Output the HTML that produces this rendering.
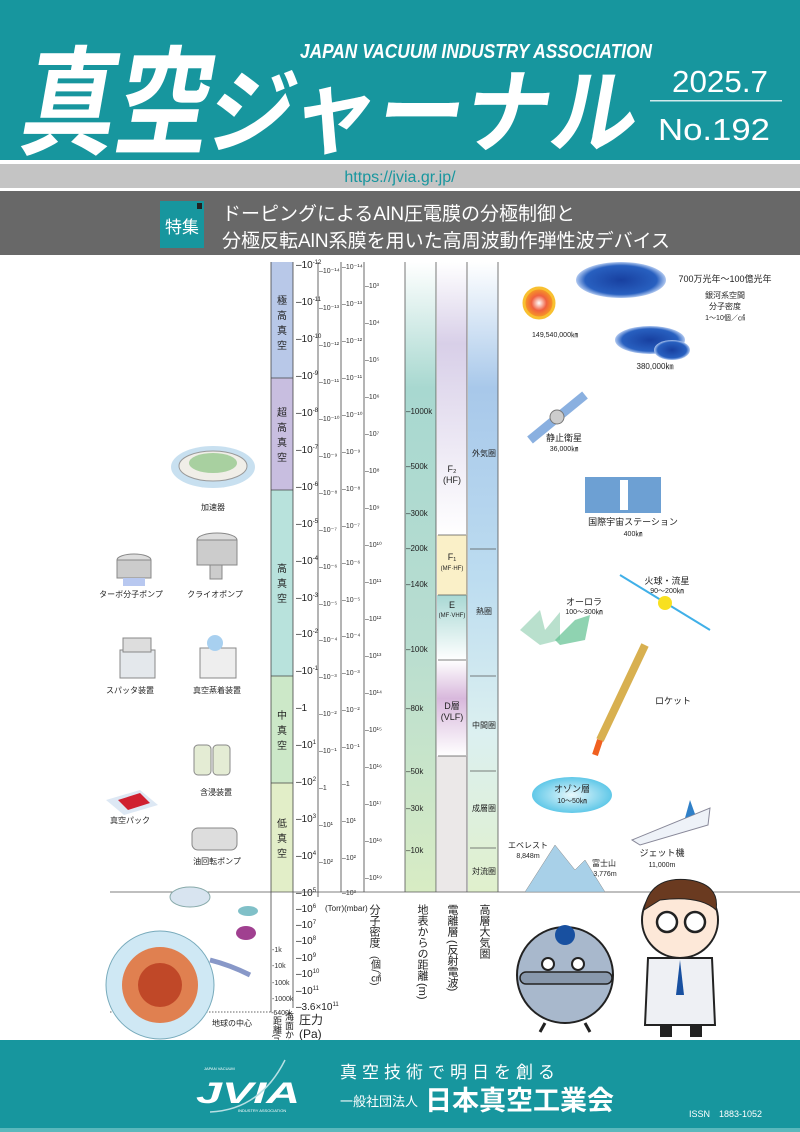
<!DOCTYPE html>
<html><head><meta charset="utf-8"><style>
html,body{margin:0;padding:0;background:#fff}
svg{display:block}
text{font-family:"Liberation Sans","Noto Sans CJK JP",sans-serif}
.j{font-family:"Liberation Sans","Noto Sans CJK JP",sans-serif}
</style></head><body>
<svg width="800" height="1132" viewBox="0 0 800 1132" xmlns="http://www.w3.org/2000/svg">
<defs>
<linearGradient id="dist" x1="0" y1="0" x2="0" y2="1"><stop offset="0" stop-color="#fff"/><stop offset="0.2" stop-color="#a8d8d0"/><stop offset="0.6" stop-color="#b8ddd0"/><stop offset="1" stop-color="#d8ecc4"/></linearGradient>
<linearGradient id="atm" x1="0" y1="0" x2="0" y2="1"><stop offset="0" stop-color="#fff"/><stop offset="0.2" stop-color="#a8c8ea"/><stop offset="0.5" stop-color="#bcdcf0"/><stop offset="0.75" stop-color="#dcf0f0"/><stop offset="1" stop-color="#e0f0cc"/></linearGradient>
<linearGradient id="f2" x1="0" y1="0" x2="0" y2="1"><stop offset="0" stop-color="#fff"/><stop offset="0.3" stop-color="#d8cfe8"/><stop offset="1" stop-color="#fff"/></linearGradient>
<linearGradient id="ee" x1="0" y1="0" x2="0" y2="1"><stop offset="0" stop-color="#a8d8d4"/><stop offset="1" stop-color="#fff"/></linearGradient>
<linearGradient id="dd" x1="0" y1="0" x2="0" y2="1"><stop offset="0" stop-color="#fff"/><stop offset="0.4" stop-color="#d8b8dc"/><stop offset="1" stop-color="#fff"/></linearGradient>
<radialGradient id="sun"><stop offset="0" stop-color="#fff"/><stop offset="0.5" stop-color="#f06040"/><stop offset="1" stop-color="#f8a020"/></radialGradient>
<radialGradient id="sky"><stop offset="0" stop-color="#1840a0"/><stop offset="0.8" stop-color="#2860c0"/><stop offset="1" stop-color="#b0c8f0"/></radialGradient>
<radialGradient id="cloud"><stop offset="0" stop-color="#e8f8fc"/><stop offset="1" stop-color="#60c8e8"/></radialGradient>
</defs>

<!-- header -->
<rect x="0" y="0" width="800" height="160" fill="#17969e"/>
<g transform="skewX(-10) translate(24,0)">
<text x="18" y="145" font-size="118" font-weight="bold" fill="#fff" textLength="190" lengthAdjust="spacingAndGlyphs" class="j">真空</text>
<text x="205" y="145" font-size="92" font-weight="bold" fill="#fff" textLength="430" lengthAdjust="spacingAndGlyphs" class="j">ジャーナル</text>
</g>
<text x="300" y="58" font-size="20" font-style="italic" font-weight="bold" fill="#fff" textLength="352" lengthAdjust="spacingAndGlyphs">JAPAN VACUUM INDUSTRY ASSOCIATION</text>
<text x="672" y="92" font-size="31" fill="#fff" textLength="96" lengthAdjust="spacingAndGlyphs">2025.7</text>
<rect x="650" y="100" width="132" height="1.5" fill="#fff" opacity="0.8"/>
<text x="658" y="140" font-size="31" fill="#fff" textLength="112" lengthAdjust="spacingAndGlyphs">No.192</text>
<rect x="0" y="160" width="800" height="4" fill="#fff"/>
<rect x="0" y="164" width="800" height="24" fill="#c4c4c4"/>
<text x="400" y="182" font-size="16" fill="#17969e" text-anchor="middle">https://jvia.gr.jp/</text>
<rect x="0" y="188" width="800" height="3" fill="#fff"/>
<rect x="0" y="191" width="800" height="64" fill="#686868"/>
<rect x="160" y="201" width="44" height="47" fill="#17969e"/>
<rect x="197" y="203" width="5" height="6" fill="#222"/>
<text x="182" y="233" font-size="17" fill="#fff" text-anchor="middle">特集</text>
<text x="222" y="220" font-size="19" fill="#fff">ドーピングによるAlN圧電膜の分極制御と</text>
<text x="222" y="247" font-size="19" fill="#fff">分極反転AlN系膜を用いた高周波動作弾性波デバイス</text>

<!-- chart columns -->
<rect x="271" y="262" width="22" height="116" fill="#b8c8e8"/>
<rect x="271" y="378" width="22" height="112" fill="#c8bee0"/>
<rect x="271" y="490" width="22" height="186" fill="#b8e2dc"/>
<rect x="271" y="676" width="22" height="107" fill="#cce8c8"/>
<rect x="271" y="783" width="22" height="109" fill="#e2eec8"/>
<g stroke="#444" stroke-width="0.8">
<line x1="271" y1="378" x2="293" y2="378"/><line x1="271" y1="490" x2="293" y2="490"/><line x1="271" y1="676" x2="293" y2="676"/><line x1="271" y1="783" x2="293" y2="783"/>
<line x1="271" y1="262" x2="271" y2="1012"/><line x1="293" y1="262" x2="293" y2="1008"/>
<line x1="318" y1="262" x2="318" y2="897"/><line x1="341" y1="262" x2="341" y2="892"/><line x1="364" y1="262" x2="364" y2="892"/>
</g>
<g font-size="10" fill="#222" text-anchor="middle">
<text x="282" y="304">極</text><text x="282" y="319">高</text><text x="282" y="334">真</text><text x="282" y="349">空</text>
<text x="282" y="416">超</text><text x="282" y="431">高</text><text x="282" y="446">真</text><text x="282" y="461">空</text>
<text x="282" y="572">高</text><text x="282" y="587">真</text><text x="282" y="602">空</text>
<text x="282" y="719">中</text><text x="282" y="734">真</text><text x="282" y="749">空</text>
<text x="282" y="827">低</text><text x="282" y="842">真</text><text x="282" y="857">空</text>
</g>
<!-- Pa ticks -->
<g font-size="10" fill="#222">
<text x="296" y="268">–10<tspan dy="-4" font-size="6">-12</tspan></text>
<text x="296" y="305">–10<tspan dy="-4" font-size="6">-11</tspan></text>
<text x="296" y="342">–10<tspan dy="-4" font-size="6">-10</tspan></text>
<text x="296" y="379">–10<tspan dy="-4" font-size="6">-9</tspan></text>
<text x="296" y="416">–10<tspan dy="-4" font-size="6">-8</tspan></text>
<text x="296" y="453">–10<tspan dy="-4" font-size="6">-7</tspan></text>
<text x="296" y="490">–10<tspan dy="-4" font-size="6">-6</tspan></text>
<text x="296" y="527">–10<tspan dy="-4" font-size="6">-5</tspan></text>
<text x="296" y="564">–10<tspan dy="-4" font-size="6">-4</tspan></text>
<text x="296" y="601">–10<tspan dy="-4" font-size="6">-3</tspan></text>
<text x="296" y="637">–10<tspan dy="-4" font-size="6">-2</tspan></text>
<text x="296" y="674">–10<tspan dy="-4" font-size="6">-1</tspan></text>
<text x="296" y="711">–1</text>
<text x="296" y="748">–10<tspan dy="-4" font-size="6">1</tspan></text>
<text x="296" y="785">–10<tspan dy="-4" font-size="6">2</tspan></text>
<text x="296" y="822">–10<tspan dy="-4" font-size="6">3</tspan></text>
<text x="296" y="859">–10<tspan dy="-4" font-size="6">4</tspan></text>
<text x="296" y="896">–10<tspan dy="-4" font-size="6">5</tspan></text>
<text x="296" y="912">–10<tspan dy="-4" font-size="6">6</tspan></text>
<text x="296" y="928">–10<tspan dy="-4" font-size="6">7</tspan></text>
<text x="296" y="944">–10<tspan dy="-4" font-size="6">8</tspan></text>
<text x="296" y="961">–10<tspan dy="-4" font-size="6">9</tspan></text>
<text x="296" y="977">–10<tspan dy="-4" font-size="6">10</tspan></text>
<text x="296" y="994">–10<tspan dy="-4" font-size="6">11</tspan></text>
<text x="296" y="1010">–3.6×10<tspan dy="-4" font-size="6">11</tspan></text>
</g>
<!-- Torr & mbar -->
<g font-size="7" fill="#333">
<text x="319" y="273">–10⁻¹⁴</text><text x="342" y="269">–10⁻¹⁴</text>
<text x="319" y="310">–10⁻¹³</text><text x="342" y="306">–10⁻¹³</text>
<text x="319" y="347">–10⁻¹²</text><text x="342" y="343">–10⁻¹²</text>
<text x="319" y="384">–10⁻¹¹</text><text x="342" y="380">–10⁻¹¹</text>
<text x="319" y="421">–10⁻¹⁰</text><text x="342" y="417">–10⁻¹⁰</text>
<text x="319" y="458">–10⁻⁹</text><text x="342" y="454">–10⁻⁹</text>
<text x="319" y="495">–10⁻⁸</text><text x="342" y="491">–10⁻⁸</text>
<text x="319" y="532">–10⁻⁷</text><text x="342" y="528">–10⁻⁷</text>
<text x="319" y="569">–10⁻⁶</text><text x="342" y="565">–10⁻⁶</text>
<text x="319" y="606">–10⁻⁵</text><text x="342" y="602">–10⁻⁵</text>
<text x="319" y="642">–10⁻⁴</text><text x="342" y="638">–10⁻⁴</text>
<text x="319" y="679">–10⁻³</text><text x="342" y="675">–10⁻³</text>
<text x="319" y="716">–10⁻²</text><text x="342" y="712">–10⁻²</text>
<text x="319" y="753">–10⁻¹</text><text x="342" y="749">–10⁻¹</text>
<text x="319" y="790">–1</text><text x="342" y="786">–1</text>
<text x="319" y="827">–10¹</text><text x="342" y="823">–10¹</text>
<text x="319" y="864">–10²</text><text x="342" y="860">–10²</text>
<text x="342" y="895">–10³</text>
<text x="365" y="288">–10³</text><text x="365" y="325">–10⁴</text><text x="365" y="362">–10⁵</text><text x="365" y="399">–10⁶</text><text x="365" y="436">–10⁷</text><text x="365" y="473">–10⁸</text><text x="365" y="510">–10⁹</text><text x="365" y="547">–10¹⁰</text><text x="365" y="584">–10¹¹</text><text x="365" y="621">–10¹²</text><text x="365" y="658">–10¹³</text><text x="365" y="695">–10¹⁴</text><text x="365" y="732">–10¹⁵</text><text x="365" y="769">–10¹⁶</text><text x="365" y="806">–10¹⁷</text><text x="365" y="843">–10¹⁸</text><text x="365" y="880">–10¹⁹</text>
</g>
<!-- distance column -->
<rect x="405" y="262" width="31" height="630" fill="url(#dist)"/>
<!-- ionosphere -->
<rect x="437" y="262" width="30" height="273" fill="url(#f2)"/>
<rect x="437" y="535" width="30" height="60" fill="#faf0c8"/>
<rect x="437" y="595" width="30" height="65" fill="url(#ee)"/>
<rect x="437" y="660" width="30" height="96" fill="url(#dd)"/>
<rect x="437" y="756" width="30" height="136" fill="#ebe8e8"/>
<rect x="468" y="262" width="30" height="630" fill="url(#atm)"/>
<g stroke="#555" stroke-width="0.8">
<line x1="405" y1="262" x2="405" y2="892"/><line x1="436" y1="262" x2="436" y2="892"/><line x1="467" y1="262" x2="467" y2="892"/><line x1="498" y1="262" x2="498" y2="892"/>
<line x1="438" y1="535" x2="466" y2="535"/><line x1="438" y1="595" x2="466" y2="595"/><line x1="438" y1="660" x2="466" y2="660"/><line x1="438" y1="756" x2="466" y2="756"/>
<line x1="470" y1="549" x2="496" y2="549"/><line x1="470" y1="676" x2="496" y2="676"/><line x1="470" y1="771" x2="496" y2="771"/><line x1="470" y1="848" x2="496" y2="848"/>
<line x1="110" y1="892" x2="800" y2="892"/>
</g>
<g font-size="8" fill="#222">
<text x="406" y="414">–1000k</text><text x="406" y="469">–500k</text><text x="406" y="516">–300k</text><text x="406" y="551">–200k</text><text x="406" y="587">–140k</text><text x="406" y="652">–100k</text><text x="406" y="711">–80k</text><text x="406" y="774">–50k</text><text x="406" y="811">–30k</text><text x="406" y="853">–10k</text>
</g>
<g font-size="9" fill="#222" text-anchor="middle">
<text x="452" y="472">F₂</text><text x="452" y="483">(HF)</text>
<text x="452" y="560">F₁</text><text x="452" y="570" font-size="6">(MF·HF)</text>
<text x="452" y="608">E</text><text x="452" y="617" font-size="6">(MF·VHF)</text>
<text x="452" y="709">D層</text><text x="452" y="720">(VLF)</text>
<text x="484" y="456" font-size="8">外気圏</text><text x="484" y="614" font-size="8">熱圏</text><text x="484" y="728" font-size="8">中間圏</text><text x="484" y="811" font-size="8">成層圏</text><text x="484" y="874" font-size="8">対流圏</text>
</g>
<!-- lower axis labels -->
<g font-size="7" fill="#333">
<text x="272" y="952">-1k</text><text x="272" y="968">-10k</text><text x="272" y="985">-100k</text><text x="272" y="1001">-1000k</text><text x="271" y="1015">-6400k</text>
</g>
<line x1="110" y1="1012" x2="271" y2="1012" stroke="#666" stroke-dasharray="1.5,1.5"/>
<text x="212" y="1026" font-size="8" fill="#222">地球の中心</text>
<text x="325" y="911" font-size="8" fill="#222">(Torr)(mbar)</text>
<g font-size="11" fill="#222" style="writing-mode:vertical-rl">
<text x="277" y="1016" font-size="9">距離(m)</text>
<text x="289" y="1012" font-size="9">海面からの</text>
<text x="374" y="904">分子密度</text><text x="374" y="956" font-size="10">(個/㎠)</text>
<text x="422" y="904">地表からの距離</text><text x="422" y="983">(m)</text>
<text x="452" y="904">電離層</text><text x="452" y="940">(反射電波)</text>
<text x="484" y="904">高層大気圏</text>
</g>
<text x="299" y="1024" font-size="12" fill="#222">圧力</text>
<text x="299" y="1038" font-size="12" fill="#222">(Pa)</text>

<!-- left illustrations -->
<ellipse cx="213" cy="467" rx="42" ry="21" fill="#c8e0f0"/>
<ellipse cx="213" cy="466" rx="34" ry="15" fill="#f0eee8" stroke="#999"/>
<ellipse cx="213" cy="463" rx="24" ry="10" fill="#a8d0a0"/>
<text x="213" y="510" font-size="8" text-anchor="middle" fill="#222">加速器</text>
<ellipse cx="134" cy="560" rx="17" ry="6" fill="#ddd" stroke="#888"/><rect x="117" y="560" width="34" height="18" fill="#ccc" stroke="#888"/><rect x="123" y="578" width="22" height="8" fill="#b8c8f0"/>
<text x="131" y="597" font-size="8" text-anchor="middle" fill="#222">ターボ分子ポンプ</text>
<ellipse cx="217" cy="540" rx="20" ry="7" fill="#ddd" stroke="#888"/><rect x="197" y="540" width="40" height="25" fill="#ccc" stroke="#888"/><rect x="210" y="565" width="12" height="14" fill="#ccc" stroke="#888"/>
<text x="215" y="597" font-size="8" text-anchor="middle" fill="#222">クライオポンプ</text>
<rect x="120" y="650" width="35" height="28" fill="#e4e8ec" stroke="#888"/><rect x="123" y="638" width="28" height="14" fill="#ddd" stroke="#888"/>
<text x="130" y="693" font-size="8" text-anchor="middle" fill="#222">スパッタ装置</text>
<rect x="200" y="648" width="36" height="30" fill="#eee" stroke="#888"/><ellipse cx="215" cy="643" rx="8" ry="8" fill="#a8d0f0"/>
<text x="217" y="693" font-size="8" text-anchor="middle" fill="#222">真空蒸着装置</text>
<rect x="194" y="745" width="17" height="30" rx="4" fill="#e4ecd4" stroke="#888"/><rect x="213" y="745" width="17" height="30" rx="4" fill="#e4ecd4" stroke="#888"/>
<text x="216" y="795" font-size="8" text-anchor="middle" fill="#222">含浸装置</text>
<path d="M106 800 L140 790 L158 805 L124 815 Z" fill="#dde8f4"/><path d="M118 800 L140 793 L150 803 L128 810 Z" fill="#d02030"/>
<text x="130" y="823" font-size="8" text-anchor="middle" fill="#222">真空パック</text>
<rect x="192" y="828" width="45" height="22" rx="6" fill="#ddd" stroke="#888"/>
<text x="217" y="864" font-size="8" text-anchor="middle" fill="#222">油回転ポンプ</text>
<!-- sea creatures / earth -->
<ellipse cx="190" cy="897" rx="20" ry="10" fill="#d8e4f0" stroke="#8aa"/>
<ellipse cx="248" cy="911" rx="10" ry="5" fill="#80c0c8"/>
<ellipse cx="246" cy="933" rx="10" ry="7" fill="#a04090"/>
<path d="M210 960 Q230 965 250 975" stroke="#8898c8" stroke-width="5" fill="none"/>
<circle cx="160" cy="985" r="54" fill="#cfe8f4" stroke="#7ab" stroke-width="1"/>
<circle cx="160" cy="985" r="38" fill="#e08050"/>
<circle cx="160" cy="985" r="22" fill="#c04828"/>

<!-- right illustrations -->
<circle cx="539" cy="303" r="15" fill="url(#sun)" stroke="#f8c030" stroke-width="3"/>
<text x="555" y="337" font-size="7" text-anchor="middle" fill="#222">149,540,000㎞</text>
<ellipse cx="621" cy="280" rx="45" ry="18" fill="url(#sky)"/>
<text x="725" y="282" font-size="9" text-anchor="middle" fill="#222">700万光年〜100億光年</text>
<text x="725" y="298" font-size="8" text-anchor="middle" fill="#222">銀河系空間</text>
<text x="725" y="309" font-size="8" text-anchor="middle" fill="#222">分子密度</text>
<text x="725" y="320" font-size="7" text-anchor="middle" fill="#222">1〜10個／㎠</text>
<ellipse cx="650" cy="340" rx="35" ry="14" fill="url(#sky)"/><ellipse cx="672" cy="350" rx="18" ry="10" fill="url(#sky)"/>
<path d="M660 330 A10 10 0 1 0 668 352 A8 8 0 1 1 660 330 Z" fill="#f0d020"/>
<text x="655" y="369" font-size="8" text-anchor="middle" fill="#222">380,000㎞</text>
<path d="M530 440 L585 395" stroke="#8ab0e0" stroke-width="9"/>
<circle cx="557" cy="417" r="7" fill="#ccc" stroke="#777"/>
<text x="564" y="441" font-size="9" text-anchor="middle" fill="#222">静止衛星</text>
<text x="564" y="451" font-size="7" text-anchor="middle" fill="#222">36,000㎞</text>
<rect x="585" y="477" width="76" height="36" fill="#4888c8" opacity="0.8"/>
<rect x="620" y="480" width="8" height="30" fill="#fff"/>
<text x="633" y="525" font-size="9" text-anchor="middle" fill="#222">国際宇宙ステーション</text>
<text x="633" y="536" font-size="7" text-anchor="middle" fill="#222">400㎞</text>
<path d="M620 575 L710 630" stroke="#40b0e8" stroke-width="2"/>
<circle cx="665" cy="603" r="7" fill="#f8e020"/>
<text x="667" y="584" font-size="9" text-anchor="middle" fill="#222">火球・流星</text>
<text x="667" y="593" font-size="7" text-anchor="middle" fill="#222">90〜200㎞</text>
<text x="584" y="605" font-size="9" text-anchor="middle" fill="#222">オーロラ</text>
<text x="584" y="614" font-size="7" text-anchor="middle" fill="#222">100〜300㎞</text>
<path d="M520 630 L540 610 L545 630 L560 612 L560 640 L540 645 Z" fill="#a8d8c0" opacity="0.8"/>
<path d="M555 640 L575 620 L590 615 L585 640 L560 645 Z" fill="#60c090" opacity="0.7"/>
<path d="M645 645 L600 740" stroke="#d8b050" stroke-width="8"/>
<path d="M600 740 L595 755" stroke="#f06020" stroke-width="6"/>
<text x="655" y="704" font-size="9" fill="#222">ロケット</text>
<ellipse cx="572" cy="795" rx="40" ry="18" fill="url(#cloud)"/>
<text x="572" y="792" font-size="9" text-anchor="middle" fill="#222">オゾン層</text>
<text x="572" y="803" font-size="7" text-anchor="middle" fill="#222">10〜50㎞</text>
<path d="M632 840 L710 808 L708 825 L640 845 Z" fill="#eef2f8" stroke="#889"/>
<path d="M690 800 L695 814 L685 818 Z" fill="#3080c8"/>
<text x="662" y="856" font-size="9" text-anchor="middle" fill="#222">ジェット機</text>
<text x="662" y="867" font-size="7" text-anchor="middle" fill="#222">11,000m</text>
<path d="M525 892 L555 845 L575 870 L585 860 L605 892 Z" fill="#a8d0e8" stroke="#888" stroke-width="0.5"/>
<text x="528" y="848" font-size="8" text-anchor="middle" fill="#222">エベレスト</text>
<text x="528" y="858" font-size="7" text-anchor="middle" fill="#222">8,848m</text>
<text x="604" y="866" font-size="8" text-anchor="middle" fill="#222">富士山</text>
<text x="605" y="876" font-size="7" text-anchor="middle" fill="#222">3,776m</text>
<!-- characters -->
<circle cx="565" cy="975" r="48" fill="#a8b8cc" stroke="#222" stroke-width="2"/>
<rect x="520" y="972" width="92" height="12" rx="6" fill="#8898ac" stroke="#222" stroke-width="1.5"/>
<circle cx="565" cy="935" r="10" fill="#1850a0"/>
<circle cx="548" cy="964" r="6" fill="#fff" stroke="#222" stroke-width="2"/><circle cx="578" cy="964" r="6" fill="#fff" stroke="#222" stroke-width="2"/>
<path d="M545 1023 L540 1032 M585 1023 L590 1032" stroke="#222" stroke-width="3"/>
<circle cx="680" cy="920" r="38" fill="#fde8d8" stroke="#222" stroke-width="2"/>
<path d="M644 910 Q650 875 690 880 Q720 885 716 910 Q700 895 660 900 Z" fill="#6a3a20" stroke="#222"/>
<circle cx="667" cy="922" r="10" fill="#fff" stroke="#222" stroke-width="2.5"/><circle cx="695" cy="922" r="10" fill="#fff" stroke="#222" stroke-width="2.5"/>
<path d="M648 958 L712 958 L715 1025 L645 1025 Z" fill="#eef0f4" stroke="#222" stroke-width="2"/>
<path d="M680 960 L676 995 L684 995 Z" fill="#1850a0"/>
<rect x="660" y="1025" width="12" height="12" fill="#222"/><rect x="690" y="1025" width="12" height="12" fill="#222"/>

<!-- footer -->
<rect x="0" y="1040" width="800" height="92" fill="#17969e"/>
<rect x="0" y="1128" width="800" height="4" fill="#5ab8bc"/>
<text x="204" y="1070" font-size="4" fill="#fff">JAPAN VACUUM</text>
<text x="196" y="1103" font-size="30" font-weight="bold" font-style="italic" fill="#fff" textLength="104" lengthAdjust="spacingAndGlyphs">JVIA</text>
<path d="M210 1112 Q260 1110 285 1060" stroke="#b8e0e4" stroke-width="1.5" fill="none"/>
<text x="238" y="1112" font-size="4" fill="#fff">INDUSTRY ASSOCIATION</text>
<text x="340" y="1078" font-size="17" fill="#fff" letter-spacing="5">真空技術で明日を創る</text>
<text x="340" y="1106" font-size="13" fill="#fff">一般社団法人</text>
<text x="425" y="1110" font-size="27" font-weight="bold" fill="#fff">日本真空工業会</text>
<text x="689" y="1117" font-size="9" fill="#fff">ISSN　1883-1052</text>
</svg>
</body></html>
